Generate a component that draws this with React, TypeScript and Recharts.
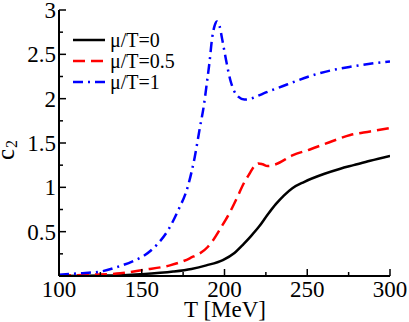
import { LineChart, Line, XAxis, YAxis, Legend } from 'recharts';

// tick values (every tick) and labelled ones
const tTicks = [100, 125, 150, 175, 200, 225, 250, 275, 300];
const tLabels = [100, 150, 200, 250, 300];
const c2Ticks = [0, 0.25, 0.5, 0.75, 1, 1.25, 1.5, 1.75, 2, 2.25, 2.5, 2.75, 3];
const c2Labels = [0.5, 1, 1.5, 2, 2.5, 3];

// mu/T = 0
const tMu0 = [100, 130, 149, 169, 180, 189, 199, 206, 211.5, 216, 221, 226, 231, 236, 241, 248, 260, 270, 278, 288, 300];
const c2Mu0 = [0.0, 0.005, 0.02, 0.05, 0.08, 0.12, 0.18, 0.26, 0.36, 0.45, 0.56, 0.69, 0.81, 0.91, 0.99, 1.06, 1.15, 1.21, 1.25, 1.3, 1.355];

// mu/T = 0.5
const tMu05 = [100, 120, 137, 151, 167, 179, 190, 193, 198, 203, 208, 211.5, 215, 218.5, 220.5, 223, 226, 231, 241, 252, 265, 276, 288, 300];
const c2Mu05 = [0.005, 0.015, 0.03, 0.07, 0.12, 0.2, 0.33, 0.4, 0.55, 0.71, 0.9, 1.04, 1.15, 1.25, 1.27, 1.26, 1.24, 1.26, 1.36, 1.43, 1.52, 1.59, 1.63, 1.67];

// mu/T = 1
const tMu1 = [100, 112, 125, 135, 145, 151, 159, 166, 172, 178, 182, 185, 187.5, 189.5, 191, 192.5, 194, 195.5, 197, 198.5, 201, 203.5, 205.5, 208.5, 212, 216, 220, 225, 235, 242, 258, 276, 300];
const c2Mu1 = [0.015, 0.03, 0.05, 0.1, 0.17, 0.225, 0.35, 0.52, 0.74, 1.02, 1.34, 1.66, 1.92, 2.2, 2.42, 2.68, 2.82, 2.87, 2.82, 2.68, 2.43, 2.21, 2.1, 2.02, 1.99, 2.0, 2.03, 2.07, 2.14, 2.19, 2.29, 2.36, 2.42];

const series = [
  { name: 'μ/T=0', t: tMu0, c2: c2Mu0, color: '#000000', dash: undefined },
  { name: 'μ/T=0.5', t: tMu05, c2: c2Mu05, color: '#ff0000', dash: '12 6' },
  { name: 'μ/T=1', t: tMu1, c2: c2Mu1, color: '#0000ff', dash: '10 5 2 5' },
];

const FONT = 'Liberation Serif';

function AxisTick(props: any) {
  const { x, y, payload, side, labels } = props;
  const v = payload.value;
  const major = labels.includes(v);
  const len = major ? 7 : 4;
  let line = null;
  let label = null;
  if (side === 'bottom') {
    line = <line x1={x} y1={y} x2={x} y2={y - len} stroke="#000" strokeWidth={1.5} />;
    if (major) label = <text x={x} y={y + 21} textAnchor="middle" fontSize={23} fontFamily={FONT} fill="#000">{String(v)}</text>;
  } else if (side === 'left') {
    line = <line x1={x} y1={y} x2={x + len} y2={y} stroke="#000" strokeWidth={1.5} />;
    if (major) label = <text x={x - 3} y={y + 8} textAnchor="end" fontSize={23} fontFamily={FONT} fill="#000">{String(v)}</text>;
  } else if (side === 'top') {
    line = <line x1={x} y1={y} x2={x} y2={y + len} stroke="#000" strokeWidth={1.5} />;
  } else {
    line = <line x1={x} y1={y} x2={x - len} y2={y} stroke="#000" strokeWidth={1.5} />;
  }
  return (
    <g>
      {line}
      {label}
    </g>
  );
}

function LegendBox() {
  return (
    <svg width={130} height={70} style={{ display: 'block' }}>
      {series.map((s, i) => (
        <g key={s.name}>
          <line x1={13} y1={15 + i * 21} x2={45} y2={15 + i * 21} stroke={s.color} strokeWidth={2.5} strokeDasharray={s.dash} />
          <text x={50} y={21.5 + i * 21} fontSize={20} fontFamily={FONT} fill="#000">{s.name}</text>
        </g>
      ))}
    </svg>
  );
}

function YLabel() {
  return (
    <text transform="translate(14,160) rotate(-90)" fontSize={25} fontFamily={FONT} fill="#000">
      c<tspan fontSize={16} dy={3} dx={1}>2</tspan>
    </text>
  );
}

function XLabel() {
  return (
    <text x={225} y={317} textAnchor="middle" fontSize={23} fontFamily={FONT} fill="#000">
      T [MeV]
    </text>
  );
}

export default function App() {
  const axisLine = { stroke: '#000', strokeWidth: 2 };
  return (
    <div style={{ position: 'absolute', left: 0, top: 0, background: '#fff' }}>
      <LineChart width={409} height={322} margin={{ top: 10, right: 19, bottom: 0, left: 0 }}>
        <XAxis
          dataKey="T"
          type="number"
          domain={[100, 300]}
          ticks={tTicks}
          allowDataOverflow
          interval={0}
          height={46}
          tickSize={0}
          tickMargin={0}
          axisLine={axisLine}
          tick={<AxisTick side="bottom" labels={tLabels} />}
          label={{ content: () => <XLabel /> }}
        />
        <XAxis
          xAxisId="top"
          orientation="top"
          type="number"
          domain={[100, 300]}
          ticks={tTicks}
          allowDataOverflow
          interval={0}
          height={0}
          tickSize={0}
          tickMargin={0}
          axisLine={axisLine}
          tick={<AxisTick side="top" labels={tLabels} />}
        />
        <YAxis
          type="number"
          domain={[0, 3]}
          ticks={c2Ticks}
          allowDataOverflow
          interval={0}
          width={59}
          tickSize={0}
          tickMargin={0}
          axisLine={axisLine}
          tick={<AxisTick side="left" labels={c2Labels} />}
          label={{ content: () => <YLabel /> }}
        />
        <YAxis
          yAxisId="right"
          orientation="right"
          type="number"
          domain={[0, 3]}
          ticks={c2Ticks}
          allowDataOverflow
          interval={0}
          width={0}
          tickSize={0}
          tickMargin={0}
          axisLine={axisLine}
          tick={<AxisTick side="right" labels={c2Labels} />}
        />
        <Legend
          layout="vertical"
          verticalAlign="middle"
          align="center"
          content={() => <LegendBox />}
          wrapperStyle={{ left: 60, top: 25, width: 130, height: 70 }}
        />
        {series.map((s) => (
          <Line
            key={s.name}
            name={s.name}
            data={s.t.map((t, i) => ({ T: t, c2: s.c2[i] }))}
            dataKey="c2"
            type="monotone"
            stroke={s.color}
            strokeWidth={2.5}
            strokeDasharray={s.dash}
            dot={false}
            activeDot={false}
            isAnimationActive={false}
          />
        ))}
      </LineChart>
    </div>
  );
}
